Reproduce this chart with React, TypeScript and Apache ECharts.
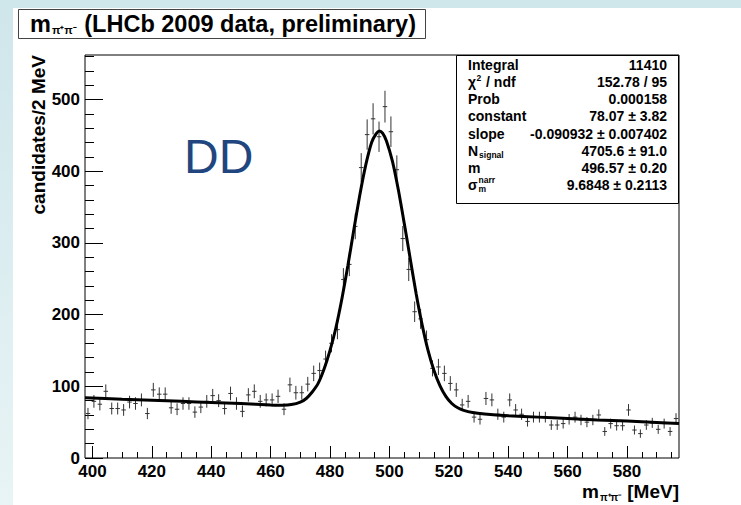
import React, { useEffect, useRef } from "react";
import * as echarts from "echarts";

// ---- data ----
const binLow = 397.5;
const binWidth = 2;
const counts = [
  62, 79, 75, 93, 69, 69, 67, 78, 76, 81,
  62, 95, 89, 89, 70, 68, 76, 76, 64, 71,
  79, 87, 80, 69, 90, 76, 65, 88, 93, 79,
  81, 81, 86, 68, 102, 91, 91, 103, 118, 122,
  138, 160, 179, 249, 270, 323, 405, 451, 473, 448,
  490, 455, 402, 306, 263, 204, 194, 165, 125, 127,
  118, 104, 95, 74, 79, 57, 54, 83, 81, 61,
  57, 81, 67, 61, 51, 57, 57, 57, 46, 46,
  48, 54, 57, 53, 50, 53, 60, 37, 48, 45,
  45, 67, 39, 34, 46, 49, 40, 48, 37, 55,
];
const fitX = [397.5, 410, 420, 430, 440, 450, 460, 464, 467, 470, 472, 474, 476, 478, 480, 482, 484, 486, 488, 490, 492, 494, 495.5, 496.6, 497.7, 499, 501, 503, 505, 507, 509, 511, 513, 515, 517, 519, 521, 523, 525, 528, 532, 540, 550, 560, 570, 580, 590, 597.5];
const fitY = [84, 82, 80.5, 79, 77.5, 76, 74, 73.5, 74.5, 78, 83, 92, 104, 124, 150, 182, 222, 268, 318, 366, 408, 440, 452, 456, 453, 442, 414, 374, 327, 278, 229, 186, 150, 122, 101, 86, 76, 70, 66.5, 63.5, 61.5, 59, 57, 55, 53, 51.5, 49.5, 48];
const xMajor = [400, 420, 440, 460, 480, 500, 520, 540, 560, 580];
const xMinor = [405, 410, 415, 425, 430, 435, 445, 450, 455, 465, 470, 475, 485, 490, 495, 505, 510, 515, 525, 530, 535, 545, 550, 555, 565, 570, 575, 585, 590, 595];
const yMajor = [0, 100, 200, 300, 400, 500];
const yMinor = [20, 40, 60, 80, 120, 140, 160, 180, 220, 240, 260, 280, 320, 340, 360, 380, 420, 440, 460, 480, 520, 540, 560];
const statLabels = ["Integral", "χ", "Prob", "constant", "slope", "N", "m", "σ"];
const statValues = ["11410", "152.78 / 95", "0.000158", "78.07 ± 3.82", "-0.090932 ± 0.007402", "4705.6 ± 91.0", "496.57 ± 0.20", "9.6848 ± 0.2113"];

const F = '"Liberation Sans", Arial, Helvetica, sans-serif';

export default function App() {
  const ref = useRef<HTMLDivElement>(null);
  useEffect(() => {
    if (!ref.current) return;
    const chart = echarts.init(ref.current, null, { renderer: "svg" });
    const cv = document.createElement("canvas").getContext("2d")!;
    const tw = (t: string, size: number, bold = true) => {
      cv.font = `${bold ? "bold " : ""}${size}px ${F}`;
      return cv.measureText(t).width;
    };
    const txt = (x: number, y: number, text: string, size: number, extra: any = {}) => ({
      type: "text",
      x,
      y,
      z: 100,
      style: {
        text,
        fontSize: size,
        fontWeight: extra.weight || "bold",
        fontFamily: extra.family || F,
        fill: extra.fill || "#000",
        align: extra.align || "left",
        verticalAlign: extra.va || "middle",
      },
      rotation: extra.rotation || 0,
    });

    const graphics: any[] = [];
    // title box
    graphics.push({ type: "rect", z: 90, shape: { x: 18.5, y: 9.5, width: 407, height: 29 }, style: { fill: "#fff", stroke: "#444", lineWidth: 1 } });
    const tSize = 23.5;
    let tx = 30;
    graphics.push(txt(tx, 23.5, "m", tSize));
    tx += tw("m", tSize) + 1;
    graphics.push(txt(tx, 30, "π⁺π⁻", 11));
    tx += tw("π⁺π⁻", 11) + 1;
    graphics.push(txt(tx, 23.5, " (LHCb 2009 data, preliminary)", tSize));

    // stats box
    graphics.push({ type: "rect", z: 90, shape: { x: 456.5, y: 55.5, width: 222, height: 148 }, style: { fill: "#fff", stroke: "#000", lineWidth: 1 } });
    const sSize = 14;
    const lx = 468;
    const rx = 667;
    statLabels.forEach((lab, i) => {
      const y = 65 + i * 17.14;
      graphics.push(txt(lx, y, lab, sSize));
      graphics.push(txt(rx, y, statValues[i], sSize, { align: "right" }));
      const w = tw(lab, sSize);
      if (lab === "χ") {
        graphics.push(txt(lx + w + 0.5, y - 4.5, "2", 8.5));
        graphics.push(txt(lx + w + 10, y, "/ ndf", sSize));
      } else if (lab === "N") {
        graphics.push(txt(lx + w + 1, y + 4.5, "signal", 8.5));
      } else if (lab === "σ") {
        graphics.push(txt(lx + w + 1, y - 5, "narr", 8.5));
        graphics.push(txt(lx + w + 1, y + 4.5, "m", 8.5));
      }
    });

    // DD label
    graphics.push(txt(184, 156, "DD", 48, { weight: "normal", fill: "#21467f" }));

    // y axis title
    graphics.push(txt(38, 55, "candidates/2 MeV", 19, { align: "right", rotation: Math.PI / 2 }));

    // x axis title (right-aligned to frame)
    const xr = 679;
    const xs = 19;
    const wMev = tw("[MeV]", xs);
    graphics.push(txt(xr, 491, "[MeV]", xs, { align: "right" }));
    const subW = tw("π⁺π⁻", 10);
    const subX = xr - wMev - 6 - subW;
    graphics.push(txt(subX, 497, "π⁺π⁻", 10));
    graphics.push(txt(subX - 1, 491, "m", xs, { align: "right" }));

    const errData = counts.map((c, i) => [binLow + binWidth * (i + 0.5), c, Math.sqrt(c)]);

    const axisCommon = { type: "value", axisLine: { show: false }, splitLine: { show: false } };
    const labelStyle = { color: "#000", fontSize: 17, fontWeight: "bold", fontFamily: F };

    chart.setOption({
      animation: false,
      backgroundColor: "transparent",
      grid: { left: 85, right: 62, top: 55, bottom: 47, show: true, borderColor: "#000", borderWidth: 1, backgroundColor: "transparent" },
      xAxis: [
        {
          ...axisCommon, min: 397.5, max: 597.5, position: "bottom",
          axisTick: { show: true, inside: true, length: 12, customValues: xMajor, lineStyle: { color: "#000", width: 1 } },
          axisLabel: { ...labelStyle, customValues: xMajor, margin: 5 },
        },
        {
          ...axisCommon, min: 397.5, max: 597.5, position: "bottom",
          axisTick: { show: true, inside: true, length: 6, customValues: xMinor, lineStyle: { color: "#000", width: 1 } },
          axisLabel: { show: false },
        },
      ],
      yAxis: [
        {
          ...axisCommon, min: 0, max: 562, position: "left",
          axisTick: { show: true, inside: true, length: 18, customValues: yMajor, lineStyle: { color: "#000", width: 1 } },
          axisLabel: { ...labelStyle, customValues: yMajor, margin: 5 },
        },
        {
          ...axisCommon, min: 0, max: 562, position: "left",
          axisTick: { show: true, inside: true, length: 9, customValues: yMinor, lineStyle: { color: "#000", width: 1 } },
          axisLabel: { show: false },
        },
      ],
      series: [
        {
          type: "custom",
          xAxisIndex: 0,
          yAxisIndex: 0,
          data: errData,
          encode: { x: 0, y: 1 },
          z: 3,
          renderItem: (params: any, api: any) => {
            const x = api.value(0);
            const y = api.value(1);
            const e = api.value(2);
            const top = api.coord([x, y + e]);
            const bot = api.coord([x, y - e]);
            const l = api.coord([x - 0.75, y]);
            const r = api.coord([x + 0.75, y]);
            return {
              type: "group",
              children: [
                { type: "line", shape: { x1: top[0], y1: top[1], x2: bot[0], y2: bot[1] }, style: { stroke: "#333", lineWidth: 1 } },
                { type: "line", shape: { x1: l[0], y1: l[1], x2: r[0], y2: r[1] }, style: { stroke: "#333", lineWidth: 1 } },
              ],
            };
          },
        },
        {
          type: "line",
          xAxisIndex: 0,
          yAxisIndex: 0,
          data: fitX.map((x, i) => [x, fitY[i]]),
          showSymbol: false,
          symbol: "none",
          smooth: 0.25,
          lineStyle: { color: "#000", width: 3 },
          z: 4,
        },
      ],
      graphic: graphics,
    });
    return () => chart.dispose();
  }, []);

  return (
    <div style={{ position: "absolute", left: 0, top: 0, width: 741, height: 505, overflow: "hidden", background: "linear-gradient(to bottom, #cfe6eb, #e8f4f6)" }}>
      <div style={{ position: "absolute", left: 13, top: 8, right: 0, bottom: 0, background: "#fff" }} />
      <div ref={ref} style={{ position: "absolute", left: 0, top: 0, width: 741, height: 505 }} />
    </div>
  );
}
